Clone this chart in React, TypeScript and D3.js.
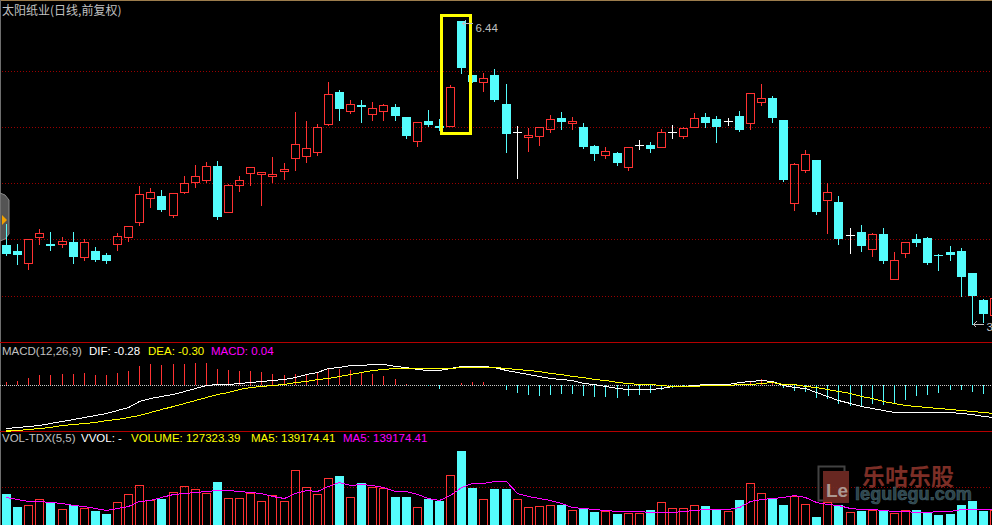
import React from "react";
import * as d3 from "d3";

const W = 992;
const H = 525;

// ---- Daily K-line data (前复权) ----
const opens = [
  4.20, 4.14, 4.02, 4.28, 4.21, 4.21, 4.23, 4.08, 4.14, 4.10,
  4.21, 4.28, 4.43, 4.67, 4.69, 4.50, 4.73, 4.83, 4.85, 4.99,
  4.53, 4.80, 4.92, 4.91, 4.89, 4.94, 5.07, 5.09, 5.13, 5.41,
  5.73, 5.54, 5.60, 5.51, 5.54, 5.58, 5.48, 5.24, 5.44, 5.39,
  5.39, 6.44, 5.90, 5.83, 5.90, 5.61, 5.33, 5.28, 5.29, 5.36,
  5.47, 5.42, 5.38, 5.19, 5.10, 5.12, 4.98, 5.20, 5.20, 5.18,
  5.33, 5.29, 5.38, 5.48, 5.46, 5.44, 5.49, 5.42, 5.63, 5.67,
  5.45, 4.62, 4.95, 5.05, 4.65, 4.63, 4.30, 4.33, 4.16, 4.31,
  3.86, 4.12, 4.26, 4.27, 4.10, 4.13, 4.14, 3.92, 3.65, 3.50,
];
const highs = [
  4.41, 4.21, 4.26, 4.36, 4.33, 4.28, 4.33, 4.26, 4.18, 4.12,
  4.32, 4.39, 4.79, 4.77, 4.75, 4.72, 4.89, 5.00, 5.03, 5.04,
  4.81, 4.89, 4.98, 4.93, 5.08, 5.02, 5.53, 5.44, 5.41, 5.83,
  5.75, 5.65, 5.65, 5.63, 5.61, 5.61, 5.48, 5.43, 5.55, 5.46,
  5.80, 6.44, 5.90, 5.92, 5.96, 5.81, 5.39, 5.37, 5.38, 5.50,
  5.53, 5.48, 5.42, 5.20, 5.18, 5.13, 5.18, 5.25, 5.23, 5.36,
  5.40, 5.38, 5.52, 5.52, 5.49, 5.47, 5.54, 5.72, 5.81, 5.69,
  5.45, 5.02, 5.15, 5.05, 4.82, 4.69, 4.37, 4.40, 4.32, 4.37,
  4.13, 4.23, 4.31, 4.28, 4.11, 4.19, 4.17, 3.92, 3.66, 3.69,
];
const lows = [
  4.10, 4.01, 3.96, 4.21, 4.15, 4.18, 4.02, 4.05, 4.04, 4.02,
  4.15, 4.24, 4.40, 4.58, 4.54, 4.48, 4.72, 4.78, 4.83, 4.46,
  4.53, 4.74, 4.80, 4.60, 4.83, 4.86, 4.95, 5.03, 5.10, 5.40,
  5.45, 5.52, 5.43, 5.45, 5.45, 5.45, 5.27, 5.19, 5.39, 5.35,
  5.39, 5.92, 5.83, 5.74, 5.64, 5.13, 4.87, 5.14, 5.20, 5.33,
  5.36, 5.36, 5.17, 5.05, 5.07, 5.00, 4.95, 5.16, 5.13, 5.18,
  5.27, 5.27, 5.38, 5.38, 5.23, 5.40, 5.34, 5.36, 5.60, 5.43,
  4.84, 4.55, 4.93, 4.51, 4.32, 4.21, 4.12, 4.14, 4.09, 4.02,
  3.86, 4.08, 4.19, 4.01, 3.95, 4.05, 3.69, 3.41, 3.43, 3.47,
];
const closes = [
  4.11, 4.10, 4.26, 4.32, 4.19, 4.24, 4.08, 4.23, 4.05, 4.04,
  4.29, 4.39, 4.71, 4.73, 4.55, 4.72, 4.82, 4.89, 4.99, 4.48,
  4.80, 4.85, 4.98, 4.93, 4.91, 4.96, 5.21, 5.17, 5.38, 5.71,
  5.56, 5.61, 5.58, 5.57, 5.60, 5.49, 5.29, 5.43, 5.40, 5.37,
  5.78, 5.97, 5.83, 5.87, 5.65, 5.31, 5.33, 5.30, 5.38, 5.46,
  5.43, 5.44, 5.18, 5.11, 5.14, 5.02, 5.18, 5.20, 5.16, 5.33,
  5.33, 5.37, 5.47, 5.42, 5.38, 5.44, 5.35, 5.72, 5.67, 5.47,
  4.85, 5.01, 5.11, 4.53, 4.73, 4.26, 4.30, 4.19, 4.31, 4.04,
  4.05, 4.23, 4.22, 4.02, 4.09, 4.10, 3.88, 3.69, 3.51, 3.67,
];

// ---- MACD(12,26,9) ----
const dif = [
  -0.43, -0.42, -0.405, -0.395, -0.38, -0.36, -0.34, -0.32, -0.30, -0.28,
  -0.25, -0.22, -0.16, -0.13, -0.11, -0.09, -0.06, -0.03, 0.005, 0.01,
  0.013, 0.02, 0.03, 0.04, 0.05, 0.06, 0.085, 0.11, 0.13, 0.167,
  0.185, 0.20, 0.205, 0.21, 0.21, 0.195, 0.18, 0.165, 0.155, 0.15,
  0.17, 0.19, 0.195, 0.19, 0.18, 0.15, 0.13, 0.11, 0.09, 0.075,
  0.065, 0.047, 0.025, 0.01, -0.007, -0.025, -0.035, -0.04, -0.035, -0.025,
  -0.007, -0.005, 0.0, 0.007, 0.01, 0.013, 0.03, 0.04, 0.047, 0.043,
  0.0, -0.015, -0.033, -0.07, -0.105, -0.15, -0.18, -0.21, -0.233, -0.25,
  -0.27, -0.27, -0.27, -0.27, -0.27, -0.27, -0.28, -0.293, -0.31, -0.315,
];
const dea = [
  -0.45, -0.447, -0.44, -0.43, -0.415, -0.40, -0.39, -0.375, -0.365, -0.35,
  -0.335, -0.317, -0.295, -0.27, -0.24, -0.21, -0.18, -0.15, -0.12, -0.093,
  -0.065, -0.04, -0.017, -0.007, 0.0, 0.01, 0.03, 0.045, 0.057, 0.075,
  0.09, 0.107, 0.13, 0.15, 0.16, 0.17, 0.173, 0.172, 0.168, 0.17,
  0.175, 0.18, 0.182, 0.183, 0.183, 0.175, 0.165, 0.155, 0.14, 0.125,
  0.11, 0.095, 0.08, 0.065, 0.05, 0.035, 0.025, 0.015, 0.007, 0.0,
  -0.005, -0.007, -0.005, -0.002, 0.0, 0.005, 0.01, 0.015, 0.025, 0.027,
  0.013, 0.007, -0.005, -0.02, -0.035, -0.055, -0.08, -0.105, -0.13, -0.155,
  -0.175, -0.195, -0.21, -0.22, -0.23, -0.24, -0.25, -0.26, -0.273, -0.278,
];
const macdHist = [
  0.03, 0.04, 0.07, 0.10, 0.10, 0.11, 0.11, 0.12, 0.10, 0.10,
  0.12, 0.14, 0.19, 0.21, 0.20, 0.21, 0.21, 0.22, 0.22, 0.16,
  0.15, 0.14, 0.14, 0.13, 0.11, 0.10, 0.11, 0.11, 0.13, 0.17,
  0.16, 0.15, 0.13, 0.11, 0.09, 0.06, 0.01, 0.0, -0.01, -0.04,
  0.0, 0.02, 0.03, 0.03, 0.0, -0.05, -0.08, -0.10, -0.11, -0.10,
  -0.09, -0.09, -0.11, -0.12, -0.12, -0.13, -0.11, -0.10, -0.08, -0.05,
  -0.03, -0.02, -0.01, 0.01, 0.0, 0.01, 0.01, 0.04, 0.06, 0.04,
  -0.03, -0.06, -0.07, -0.13, -0.14, -0.19, -0.21, -0.22, -0.19, -0.20,
  -0.19, -0.15, -0.11, -0.10, -0.08, -0.05, -0.05, -0.07, -0.09, -0.10,
];

// ---- Volume & MA5 ----
const volumes = [
  264000, 160000, 176000, 224000, 192000, 144000, 176000, 152000, 128000, 104000,
  200000, 264000, 336000, 216000, 224000, 280000, 328000, 304000, 272000, 360000,
  232000, 232000, 272000, 208000, 256000, 208000, 456000, 320000, 264000, 392000,
  408000, 240000, 352000, 320000, 312000, 240000, 240000, 160000, 224000, 208000,
  416000, 608000, 312000, 224000, 304000, 304000, 224000, 160000, 168000, 176000,
  176000, 136000, 154000, 120000, 128000, 104000, 112000, 112000, 136000, 200000,
  152000, 152000, 176000, 168000, 136000, 128000, 216000, 352000, 272000, 232000,
  176000, 248000, 184000, 80000, 200000, 176000, 120000, 128000, 136000, 128000,
  112000, 136000, 136000, 120000, 96000, 104000, 176000, 208000, 128000, 136000,
];
const volMA5 = [
  242400, 226400, 210400, 210400, 202400, 194400, 178400, 170400, 154400, 138400,
  154400, 168000, 210400, 218400, 242400, 266400, 274400, 280000, 288000, 298400,
  293600, 285600, 280000, 274400, 250400, 229600, 274400, 296000, 290400, 325600,
  362400, 336000, 346400, 338400, 317600, 290400, 290400, 264000, 234400, 216000,
  256000, 317600, 349600, 354400, 368000, 368000, 269600, 248000, 229600, 216000,
  194400, 162400, 154400, 144000, 136000, 128000, 128000, 128000, 122400, 122400,
  122400, 132000, 136000, 146400, 146400, 146400, 162400, 208000, 224000, 234400,
  240000, 253600, 242400, 202400, 181600, 176000, 154400, 148000, 144000, 136000,
  132000, 128000, 122400, 122400, 128000, 128000, 141600, 141600, 141600, 141600,
];

const title = "太阳纸业(日线,前复权)";
const macdLegend = [
  { text: "MACD(12,26,9)", color: "#c0c0c0", x: 2 },
  { text: "DIF: -0.28", color: "#ffffff", x: 89 },
  { text: "DEA: -0.30", color: "#ffff00", x: 148 },
  { text: "MACD: 0.04", color: "#ff00ff", x: 211 },
];
const volLegend = [
  { text: "VOL-TDX(5,5)", color: "#c0c0c0", x: 2 },
  { text: "VVOL: -", color: "#ffffff", x: 81 },
  { text: "VOLUME: 127323.39", color: "#ffff00", x: 131 },
  { text: "MA5: 139174.41", color: "#ffff00", x: 251 },
  { text: "MA5: 139174.41", color: "#ff00ff", x: 343 },
];

const RED = "#ff3232";
const CYAN = "#54fcfc";
const WHITE = "#ffffff";
const GRID = "#9a0000";
const SEP = "#b40000";
const LABEL = "#c0c0c0";
const LATIN = "Arial, 'Liberation Sans', sans-serif";

export default function App() {
  const n = closes.length;
  const x = d3.scaleLinear().domain([0, 89]).range([6.5, 994.4]);
  const yP = d3.scaleLinear().domain([3.41, 6.44]).range([324, 21]);
  const yM = d3.scaleLinear().domain([-0.46, 0.43]).range([431, 342]);
  const yV = d3.scaleLinear().domain([0, 760000]).range([527, 432]);

  const left = (i: number) => Math.round(x(i) - 4.5);
  const cx = (i: number) => left(i) + 4.5;
  const py = (v: number) => Math.round(yP(v));

  const gridYs = [71.5, 127.5, 183.5, 239.5, 296.5];

  const candles = d3.range(n).map((i) => {
    const o = opens[i], c = closes[i], h = highs[i], l = lows[i];
    const lx = left(i);
    const wx = cx(i);
    if (c > o) {
      const top = py(c), bot = py(o);
      return (
        <g key={i}>
          <line x1={wx} x2={wx} y1={py(h)} y2={top} stroke={RED} />
          <line x1={wx} x2={wx} y1={bot} y2={py(l) + 1} stroke={RED} />
          <rect x={lx + 0.5} y={top + 0.5} width={8} height={Math.max(1, bot - top)} fill="none" stroke={RED} />
        </g>
      );
    } else if (c < o) {
      const top = py(o), bot = py(c);
      return (
        <g key={i}>
          <line x1={wx} x2={wx} y1={py(h)} y2={py(l) + 1} stroke={CYAN} />
          <rect x={lx} y={top} width={9} height={Math.max(1, bot - top)} fill={CYAN} />
        </g>
      );
    }
    const yy = py(c) + 0.5;
    return (
      <g key={i}>
        <line x1={wx} x2={wx} y1={py(h)} y2={py(l) + 1} stroke={WHITE} />
        <line x1={lx} x2={lx + 9} y1={yy} y2={yy} stroke={WHITE} />
      </g>
    );
  });

  const volBars = d3.range(n).map((i) => {
    const up = closes[i] >= opens[i];
    const top = Math.round(yV(volumes[i]));
    const lx = left(i);
    const base = Math.round(yV(0));
    return up ? (
      <rect key={i} x={lx + 0.5} y={top + 0.5} width={8} height={base - top} fill="none" stroke={RED} />
    ) : (
      <rect key={i} x={lx} y={top} width={9} height={base - top} fill={CYAN} />
    );
  });

  const macdBars = d3.range(n).map((i) => {
    const v = macdHist[i];
    if (Math.abs(v) < 0.005) return null;
    const y0 = Math.round(yM(0));
    const y1 = Math.round(yM(v));
    return (
      <line key={i} x1={cx(i)} x2={cx(i)} y1={y0} y2={y1} stroke={v > 0 ? RED : CYAN} />
    );
  });

  const line = d3
    .line<number>()
    .x((_, i) => cx(i))
    .y((d) => d);

  const difPath = line(dif.map((v) => Math.round(yM(v)) + 0.5)) || "";
  const deaPath = line(dea.map((v) => Math.round(yM(v)) + 0.5)) || "";
  const maPath = line(volMA5.map((v) => Math.round(yV(v)) + 0.5)) || "";

  const hiIdx = d3.maxIndex(highs);
  const loIdx = d3.minIndex(lows);
  const hiY = py(highs[hiIdx]) + 2.5;
  const loY = py(lows[loIdx]) + 0.5;
  const hiX = cx(hiIdx);
  const loX = cx(loIdx);

  // yellow highlight around the breakout pair
  const boxL = left(40) - 6 + 1.5;
  const boxR = left(41) + 9 + 6 - 1.5;
  const boxT = py(highs[41]) - 7 + 1.5;
  const boxB = py(lows[40]) + 9 - 1.5;

  return (
    <div style={{ width: W, height: H, background: "#000", overflow: "hidden" }}>
      <style>{`html,body{margin:0;padding:0;background:#000;}`}</style>
      <svg width={W} height={H} style={{ display: "block", background: "#000" }}>
        <rect x={0} y={0} width={W} height={H} fill="#000" />
        {/* frame */}
        <line x1={0} x2={W} y1={0.5} y2={0.5} stroke="#9c7c4c" />
        <line x1={0.5} x2={0.5} y1={0} y2={H} stroke="#6e6e6e" />

        {/* main pane grid */}
        {gridYs.map((gy) => (
          <line key={gy} x1={2} x2={W} y1={gy} y2={gy} stroke={GRID} strokeDasharray="1,2" />
        ))}

        {/* separators */}
        <line x1={0} x2={W} y1={342.5} y2={342.5} stroke={SEP} />
        <line x1={0} x2={W} y1={431.5} y2={431.5} stroke={SEP} />
        <rect x={6} y={430} width={5} height={2} fill="#ffff00" />

        {/* left collapse tab */}
        <path d="M0,193 L5,195 L9,200 L9,234 L5,239 L0,241 Z" fill="#545454" stroke="#8a8a8a" />
        <path d="M2,215 L7,220 L2,225 Z" fill="#f0a000" />

        {/* candles */}
        <g shapeRendering="crispEdges">{candles}</g>

        {/* highlight box */}
        <rect
          x={boxL}
          y={boxT}
          width={boxR - boxL}
          height={boxB - boxT}
          fill="none"
          stroke="#ffff00"
          strokeWidth={3}
        />

        {/* high / low markers */}
        <g stroke={LABEL} fill="none" shapeRendering="crispEdges">
          <line x1={hiX + 1} x2={hiX + 11} y1={hiY} y2={hiY} />
          <path d={`M${hiX + 4},${hiY - 3} L${hiX + 1},${hiY} L${hiX + 4},${hiY + 3}`} />
          <line x1={loX + 1} x2={loX + 11} y1={loY} y2={loY} />
          <path d={`M${loX + 4},${loY - 3} L${loX + 1},${loY} L${loX + 4},${loY + 3}`} />
        </g>
        <text x={hiX + 14} y={hiY + 8} fill={LABEL} fontSize={11.5} fontFamily={LATIN}>
          {d3.format(".2f")(highs[hiIdx])}
        </text>
        <text x={loX + 14} y={loY + 6} fill={LABEL} fontSize={11.5} fontFamily={LATIN}>
          {d3.format(".2f")(lows[loIdx])}
        </text>

        {/* title */}
        <text x={2} y={15} fill={LABEL} fontSize={12} fontFamily="'Noto Sans CJK SC', sans-serif">
          {title}
        </text>

        {/* MACD pane */}
        <line
          x1={0}
          x2={W}
          y1={Math.round(yM(0)) + 0.5}
          y2={Math.round(yM(0)) + 0.5}
          stroke="#c8c8c8"
          strokeDasharray="1,1"
        />
        <g shapeRendering="crispEdges">{macdBars}</g>
        <path d={difPath} fill="none" stroke="#ffffff" shapeRendering="crispEdges" />
        <path d={deaPath} fill="none" stroke="#ffff00" shapeRendering="crispEdges" />
        {macdLegend.map((t) => (
          <text key={t.x} x={t.x} y={355} fill={t.color} fontSize={11.5} fontFamily={LATIN}>
            {t.text}
          </text>
        ))}

        {/* Volume pane */}
        <line x1={2} x2={W} y1={487.5} y2={487.5} stroke={GRID} strokeDasharray="1,2" />

        {/* watermark */}
        <g opacity={0.9}>
          <rect x={818.5} y={466.5} width={26} height={34} fill="none" stroke="#4a4a4a" strokeWidth={2} />
          <rect x={823} y={471} width={26} height={32} fill="#742c25" />
          <text x={826} y={497} fill="#bfa9a2" fontSize={19} fontWeight="bold" fontFamily={LATIN}>
            Le
          </text>
          <text x={862} y={485} fill="#8a342b" fontSize={23} fontWeight="bold" fontFamily="'Noto Sans CJK SC', sans-serif">
            乐咕乐股
          </text>
          <text
            x={855}
            y={500}
            fill="#2f4b54"
            stroke="#4f6b74"
            strokeWidth={0.6}
            fontSize={19}
            fontWeight="bold"
            fontFamily={LATIN}
            textLength={117}
            lengthAdjust="spacingAndGlyphs"
          >
            legulegu.com
          </text>
        </g>

        <g shapeRendering="crispEdges">{volBars}</g>
        <path d={maPath} fill="none" stroke="#ff00ff" shapeRendering="crispEdges" />
        {volLegend.map((t) => (
          <text key={t.x} x={t.x} y={442} fill={t.color} fontSize={11.5} fontFamily={LATIN}>
            {t.text}
          </text>
        ))}
      </svg>
    </div>
  );
}
